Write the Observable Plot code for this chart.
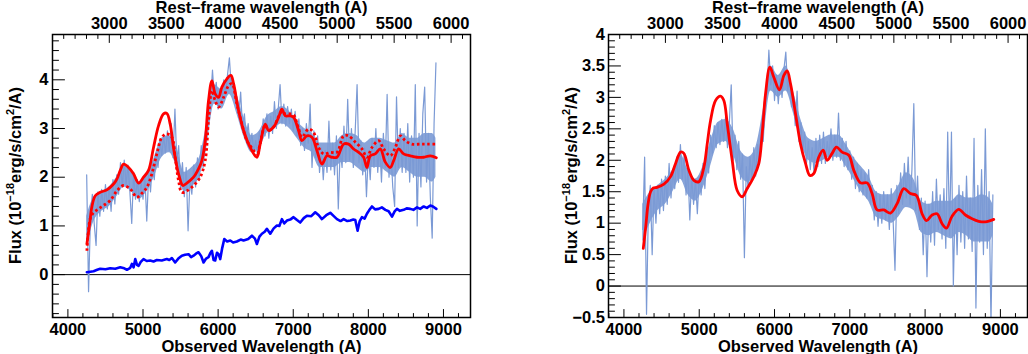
<!DOCTYPE html>
<html><head><meta charset="utf-8">
<script src="https://cdn.jsdelivr.net/npm/d3@7"></script>
<script src="https://cdn.jsdelivr.net/npm/@observablehq/plot@0.6"></script>
<style>
body{margin:0;background:#fff;}
#wrap{display:flex;width:1028px;height:354px;overflow:hidden;}
#wrap svg{flex:none;}
</style></head><body><div id="wrap"></div>
<script>
// ---------- data ----------
const obsWave = [
4250,4275,4300,4325,4350,4375,4400,4425,4450,4475,
4500,4525,4550,4575,4600,4625,4650,4675,4700,4725,
4750,4775,4800,4825,4850,4875,4900,4925,4950,4975,
5000,5025,5050,5075,5100,5125,5150,5175,5200,5225,
5250,5275,5300,5325,5350,5375,5400,5425,5450,5475,
5500,5525,5550,5575,5600,5625,5650,5675,5700,5725,
5750,5775,5800,5825,5850,5875,5900,5925,5950,5975,
6000,6025,6050,6075,6100,6125,6150,6175,6200,6225,
6250,6275,6300,6325,6350,6375,6400,6425,6450,6475,
6500,6525,6550,6575,6600,6625,6650,6675,6700,6725,
6750,6775,6800,6825,6850,6875,6900,6925,6950,6975,
7000,7025,7050,7075,7100,7125,7150,7175,7200,7225,
7250,7275,7300,7325,7350,7375,7400,7425,7450,7475,
7500,7525,7550,7575,7600,7625,7650,7675,7700,7725,
7750,7775,7800,7825,7850,7875,7900,7925,7950,7975,
8000,8025,8050,8075,8100,8125,8150,8175,8200,8225,
8250,8275,8300,8325,8350,8375,8400,8425,8450,8475,
8500,8525,8550,8575,8600,8625,8650,8675,8700,8725,
8750,8775,8800,8825,8850,8875,8900];

const obsFluxL = [
2.05,-0.35,1.15,1.65,1.05,0.6,1.7,1.2,1.75,1.3,
1.85,1.35,1.8,1.3,1.95,1.45,2.05,1.65,2.3,1.8,
2.35,1.85,2.25,1.7,1.05,2.1,1.55,1.95,1.5,1.9,
1.55,2.0,1.1,2.05,1.7,2.3,1.95,2.5,2.2,2.75,
2.45,2.85,2.5,2.95,2.55,3.1,2.4,3.4,2.3,2.65,
1.75,2.3,1.6,2.2,0.9,1.95,1.65,2.25,1.8,2.4,
1.95,2.65,2.2,2.6,2.9,3.35,3.6,4.2,3.6,3.95,
3.4,3.75,3.55,4.0,3.7,4.1,4.45,3.85,4.0,3.6,
3.65,3.25,3.75,3.0,3.3,2.8,3.1,2.65,2.9,2.5,
2.75,2.45,2.95,2.7,3.2,2.85,3.3,2.8,3.25,2.9,
3.55,3.0,3.4,3.9,3.1,3.5,3.05,3.45,3.1,3.4,
2.95,3.35,2.85,3.2,2.65,3.0,2.55,3.1,2.7,3.5,
2.2,2.95,2.4,2.85,2.1,2.6,1.95,2.55,2.1,3.15,
2.15,2.7,2.05,2.85,1.35,2.6,2.2,3.05,2.3,3.6,
2.35,3.0,2.2,2.95,3.9,2.3,2.75,2.05,2.6,1.6,
2.5,1.95,2.8,2.2,3.0,2.1,2.7,1.9,2.9,2.2,
3.7,2.0,2.55,1.8,1.4,3.65,2.2,3.0,2.1,2.9,
2.1,3.1,1.9,2.85,2.0,3.9,1.0,2.9,1.8,3.3,
3.85,1.9,2.9,1.6,0.75,3.1,4.35];

const obsFluxR = [
0.9,2.05,-0.45,1.25,1.6,0.5,1.55,1.0,1.6,1.15,
1.7,1.2,1.75,1.3,1.95,1.4,1.85,1.55,2.05,1.65,
2.25,1.7,2.1,1.45,1.85,1.05,1.75,1.3,1.7,1.15,
1.75,1.45,1.95,1.55,2.1,1.8,2.4,2.1,2.55,2.2,
2.6,2.25,2.65,2.3,2.7,2.2,2.6,3.2,2.0,2.4,
1.85,2.3,1.7,2.1,0.45,1.9,1.55,2.05,1.7,2.2,
1.75,2.25,1.95,2.4,2.3,2.9,3.1,3.75,3.2,3.5,
2.95,3.35,2.9,3.3,3.0,3.45,3.72,3.1,3.3,2.85,
3.0,2.55,3.1,2.3,2.6,2.15,2.45,1.95,2.3,1.85,
2.2,1.8,2.35,1.9,2.4,1.95,2.45,1.95,2.3,2.05,
2.5,2.0,2.4,2.05,2.75,2.0,2.35,1.9,2.3,1.85,
2.15,1.7,2.05,1.55,1.95,1.5,1.85,1.45,1.8,1.4,
1.85,1.3,1.6,1.05,1.5,0.95,1.45,1.0,1.5,1.05,
1.45,0.9,1.55,1.05,0.25,1.6,1.15,1.8,1.3,1.95,
1.4,2.05,1.3,1.85,2.9,1.2,1.75,0.9,1.4,0.5,
1.35,0.15,1.3,0.7,1.5,0.65,1.7,0.9,1.45,0.75,
1.55,0.6,2.45,0.8,2.45,0.0,1.4,0.5,1.6,0.7,
1.5,0.6,1.75,0.75,1.4,0.55,2.35,-0.35,1.6,0.7,
1.85,0.5,2.5,0.6,1.5,-0.6,1.45];

// dense core of the observed spectrum (lower / upper edge), read every 100 A
const bandWave = [4250,4350,4450,4550,4650,4750,4850,4950,5050,5150,5250,5350,5450,5550,5650,5750,5850,5950,6050,6150,6250,6350,6450,6550,6650,6750,6850,6950,7050,7150,7250,7350,7450,7550,7650,7750,7850,7950,8050,8150,8250,8350,8450,8550,8650,8750,8850,8900];
const bandLoL = [0.6,1.1,1.3,1.4,1.6,1.8,1.7,1.55,1.7,2.0,2.4,2.5,2.2,1.7,1.8,2.0,2.6,3.5,3.4,3.7,3.3,2.8,2.5,2.6,2.9,3.0,3.1,3.0,2.8,2.6,2.5,2.2,2.2,2.2,2.3,2.3,2.2,2.1,2.2,2.2,2.1,2.0,2.2,2.1,2.0,2.0,1.9,2.0];
const bandHiL = [1.2,1.6,1.7,1.8,2.0,2.25,2.1,1.9,2.05,2.4,2.8,2.85,2.6,2.1,2.2,2.4,3.1,3.9,3.8,4.1,3.7,3.2,2.85,2.95,3.25,3.35,3.45,3.35,3.15,3.0,2.9,2.7,2.7,2.7,2.85,2.9,2.85,2.7,2.8,2.8,2.75,2.7,2.9,2.8,2.8,2.9,2.9,2.8];
const bandLoR = [0.7,1.0,1.2,1.3,1.5,1.7,1.45,1.35,1.55,1.9,2.25,2.3,2.1,1.75,1.65,1.8,2.3,3.1,3.0,3.1,2.75,2.3,2.0,1.95,2.0,2.05,2.05,1.9,1.7,1.5,1.35,1.1,1.05,1.0,1.1,1.25,1.2,0.85,0.8,0.85,0.8,0.75,0.85,0.8,0.7,0.7,0.7,0.8];
const bandHiR = [1.3,1.5,1.6,1.7,1.85,2.1,1.85,1.7,1.9,2.3,2.6,2.65,2.5,2.15,2.05,2.2,2.8,3.5,3.35,3.5,3.1,2.65,2.35,2.3,2.35,2.4,2.4,2.25,2.05,1.9,1.75,1.5,1.45,1.45,1.6,1.8,1.7,1.35,1.3,1.35,1.35,1.35,1.45,1.4,1.4,1.45,1.4,1.3];

// left panel: solid red model
const fitWaveL = [4253,4290,4320,4364,4430,4519,4608,4652,4697,4741,4808,4874,4941,5007,5073,5140,5207,5273,5317,5362,5406,5473,5531,5584,5673,5739,5784,5828,5872,5917,5961,6006,6050,6117,6170,6206,6272,6339,6428,6516,6560,6627,6672,6738,6805,6849,6894,6960,7004,7071,7115,7182,7249,7315,7382,7449,7515,7582,7671,7737,7804,7871,7937,7981,8026,8092,8159,8226,8292,8337,8403,8470,8559,8648,8737,8825,8905];
const fitSolidL = [0.63,1.05,1.4,1.62,1.69,1.74,1.86,1.96,2.14,2.27,2.2,2.07,1.88,2.0,2.14,2.61,3.06,3.3,3.31,3.09,2.61,2.07,1.83,1.88,2.0,2.17,2.34,2.75,3.57,3.98,3.71,3.64,3.85,4.02,4.09,3.92,3.37,2.96,2.61,2.41,2.68,3.09,2.96,3.03,3.23,3.4,3.26,3.26,3.23,2.96,2.75,2.85,2.82,2.55,2.27,2.44,2.41,2.41,2.68,2.68,2.58,2.51,2.41,2.2,2.44,2.48,2.58,2.31,2.2,2.34,2.58,2.48,2.44,2.41,2.41,2.44,2.4];
// left panel: dotted red model
const fitDotWaveL = [4253,4297,4340,4408,4475,4563,4652,4741,4830,4918,4985,5051,5118,5184,5251,5317,5384,5428,5473,5517,5584,5673,5761,5828,5872,5917,5961,6006,6073,6139,6184,6250,6317,6383,6472,6516,6560,6627,6672,6738,6805,6849,6894,6960,7004,7071,7115,7204,7271,7337,7404,7493,7582,7671,7737,7826,7915,7981,8048,8137,8204,8292,8359,8426,8492,8581,8692,8781,8905];
const fitDotL = [0.49,1.15,1.27,1.35,1.42,1.52,1.72,1.83,1.76,1.59,1.67,1.79,2.07,2.48,2.82,2.89,2.82,2.41,1.93,1.69,1.72,1.83,2.0,2.34,3.16,3.78,3.57,3.44,3.64,3.88,3.92,3.5,3.09,2.75,2.55,2.43,2.7,3.07,2.96,3.03,3.25,3.35,3.3,3.3,3.28,3.0,2.82,2.99,2.92,2.61,2.48,2.51,2.51,2.85,2.85,2.72,2.58,2.41,2.61,2.75,2.58,2.44,2.61,2.85,2.75,2.68,2.68,2.68,2.68];
// left panel: blue component
const hostWaveL = [4253,4300,4342,4390,4430,4500,4564,4630,4697,4750,4786,4830,4852,4875,4897,4920,4941,4970,5007,5050,5096,5140,5184,5250,5317,5350,5384,5428,5470,5517,5560,5606,5640,5673,5705,5739,5775,5806,5840,5872,5895,5917,5940,5961,5985,6006,6028,6055,6082,6120,6162,6200,6250,6300,6339,6400,6450,6490,6516,6550,6583,6620,6649,6694,6740,6783,6815,6849,6880,6916,6960,7004,7050,7093,7140,7182,7240,7293,7340,7382,7440,7493,7540,7582,7630,7671,7720,7760,7800,7826,7857,7885,7915,7950,7981,8010,8048,8090,8137,8180,8226,8270,8315,8350,8381,8420,8470,8510,8559,8600,8648,8690,8737,8780,8825,8860,8905];
const hostL = [0.05,0.06,0.07,0.1,0.12,0.11,0.13,0.12,0.15,0.13,0.1,0.14,0.22,0.15,0.32,0.2,0.18,0.26,0.32,0.28,0.29,0.27,0.3,0.29,0.32,0.3,0.34,0.25,0.33,0.39,0.41,0.42,0.36,0.39,0.43,0.46,0.38,0.25,0.33,0.36,0.44,0.49,0.3,0.29,0.45,0.42,0.32,0.55,0.73,0.68,0.7,0.66,0.68,0.72,0.7,0.73,0.8,0.74,0.63,0.78,0.84,0.88,0.94,0.84,0.95,1.01,1.0,1.14,1.05,1.11,1.13,1.18,1.12,1.07,1.16,1.21,1.2,1.28,1.22,1.14,1.22,1.27,1.2,1.14,1.1,1.14,1.1,1.11,1.13,1.12,0.9,1.1,1.18,1.15,1.25,1.32,1.4,1.34,1.35,1.38,1.33,1.3,1.19,1.3,1.35,1.31,1.33,1.36,1.35,1.33,1.38,1.35,1.4,1.37,1.42,1.4,1.35];

// right panel: red model
const fitWaveR = [4257,4290,4320,4354,4390,4440,4531,4619,4686,4752,4796,4863,4929,4996,5062,5106,5150,5217,5283,5327,5372,5438,5504,5571,5637,5726,5792,5836,5881,5938,5991,6066,6124,6168,6212,6279,6345,6412,6469,6522,6588,6646,6699,6765,6823,6898,6987,7053,7142,7230,7296,7363,7451,7540,7628,7717,7805,7885,7960,8018,8093,8159,8226,8283,8358,8447,8535,8624,8712,8800,8912];
const fitR = [0.6,0.95,1.3,1.5,1.56,1.57,1.62,1.74,1.95,2.13,2.11,1.84,1.68,1.66,1.89,2.26,2.63,2.95,3.02,2.95,2.58,2.0,1.52,1.42,1.55,1.74,1.95,2.42,3.06,3.48,3.32,3.12,3.35,3.42,3.22,2.74,2.26,1.95,1.76,1.79,2.05,2.16,2.0,2.11,2.21,2.13,2.08,1.84,1.64,1.64,1.47,1.21,1.21,1.16,1.31,1.55,1.47,1.44,1.15,1.04,1.13,1.15,0.99,0.92,1.11,1.22,1.13,1.07,1.03,1.02,1.06];

// axes
const onePlusZ = 1.517;
const xMajorTicks = [4000,5000,6000,7000,8000,9000];
const xMinorTicks = [3800,4200,4400,4600,4800,5200,5400,5600,5800,6200,6400,6600,6800,7200,7400,7600,7800,8200,8400,8600,8800,9200];
const restMajorTicks = [3000,3500,4000,4500,5000,5500,6000];
const restMinorTicks = [2600,2700,2800,2900,3100,3200,3300,3400,3600,3700,3800,3900,4100,4200,4300,4400,4600,4700,4800,4900,5100,5200,5300,5400,5600,5700,5800,5900,6100];
const yMajorL = [0,1,2,3,4];
const yMinorL = [-0.8,-0.6,-0.4,-0.2,0.2,0.4,0.6,0.8,1.2,1.4,1.6,1.8,2.2,2.4,2.6,2.8,3.2,3.4,3.6,3.8,4.2,4.4,4.6,4.8];
const yMajorR = [-0.5,0,0.5,1,1.5,2,2.5,3,3.5,4];
const yMinorR = [-0.4,-0.3,-0.2,-0.1,0.1,0.2,0.3,0.4,0.6,0.7,0.8,0.9,1.1,1.2,1.3,1.4,1.6,1.7,1.8,1.9,2.1,2.2,2.3,2.4,2.6,2.7,2.8,2.9,3.1,3.2,3.3,3.4,3.6,3.7,3.8,3.9];

const xTitle = "Observed Wavelength (A)";
const topTitle = "Rest\u2013frame wavelength (A)";

// ---------- drawing ----------
const FONT = "'Liberation Sans', Arial, Helvetica, sans-serif";
const FS = 16.5;
const OBS = "#7b9ad5";
const tickShape = {draw(ctx, l) { ctx.moveTo(0, 0); ctx.lineTo(0, -l); }};
const tickMark = (vals, o) => Plot.vector(vals, {...o, shape: tickShape, anchor: "start", stroke: "black", strokeWidth: 1});
const fmt = d => (d < 0 ? "\u2212" + String(-d) : String(d));

function panel(cfg) {
  const txt = {fill: "black", fontSize: FS, fontWeight: "bold", fontFamily: FONT, lineAnchor: "middle"};
  const svg = Plot.plot({
    width: 514, height: 354,
    marginLeft: cfg.ml, marginRight: cfg.mr, marginTop: 34, marginBottom: 37,
    x: {domain: [3795, 9360], axis: null},
    y: {domain: cfg.yDomain, axis: null},
    style: {fontFamily: FONT, fontSize: FS + "px", fontWeight: "bold", background: "white", overflow: "visible"},
    marks: [
      Plot.ruleY([0], {stroke: "black", strokeWidth: 1}),
      Plot.areaY(bandWave, {x: d => d, y1: (d, i) => cfg.lo[i], y2: (d, i) => cfg.hi[i], fill: OBS, fillOpacity: 0.9, curve: "monotone-x"}),
      Plot.line(obsWave, {x: d => d, y: (d, i) => cfg.obs[i], stroke: OBS, strokeWidth: 1.2, clip: true}),
      ...cfg.lines,
      Plot.frame({stroke: "black", strokeWidth: 1.5}),
      tickMark(cfg.yMajor, {y: d => d, frameAnchor: "left", rotate: 90, length: 12}),
      tickMark(cfg.yMinor, {y: d => d, frameAnchor: "left", rotate: 90, length: 6}),
      tickMark(xMajorTicks, {x: d => d, frameAnchor: "bottom", rotate: 0, length: 8}),
      tickMark(xMinorTicks, {x: d => d, frameAnchor: "bottom", rotate: 0, length: 4}),
      tickMark(restMajorTicks, {x: d => d * onePlusZ, frameAnchor: "top", rotate: 180, length: 8}),
      tickMark(restMinorTicks, {x: d => d * onePlusZ, frameAnchor: "top", rotate: 180, length: 4}),
      Plot.text(cfg.yMajor, {...txt, y: d => d, frameAnchor: "left", dx: -cfg.ypad, textAnchor: "end", text: fmt}),
      Plot.text(xMajorTicks, {...txt, x: d => d, frameAnchor: "bottom", dy: 12, text: fmt}),
      Plot.text(restMajorTicks, {...txt, x: d => d * onePlusZ, frameAnchor: "top", dy: -10.5, text: fmt}),
      Plot.text([xTitle], {...txt, frameAnchor: "bottom", dy: 29, text: d => d}),
      Plot.text([topTitle], {...txt, frameAnchor: "top", dy: -26.3, text: d => d})
    ]
  });
  // y-axis title with superscripts
  const t = d3.select(svg).append("text")
    .attr("transform", `translate(${cfg.labelX},175.5) rotate(-90)`)
    .attr("text-anchor", "middle")
    .attr("font-family", FONT).attr("font-weight", "bold").attr("font-size", FS).attr("fill", "black");
  t.append("tspan").text("Flux (10");
  t.append("tspan").attr("dy", -7).attr("font-size", 11).text("\u221218");
  t.append("tspan").attr("dy", 7).text("erg/s/cm");
  t.append("tspan").attr("dy", -7).attr("font-size", 11).text("2");
  t.append("tspan").attr("dy", 7).text("/A)");
  return svg;
}

const left = panel({
  ml: 52, mr: 44, yDomain: [-0.88, 4.93], obs: obsFluxL, lo: bandLoL, hi: bandHiL, yMajor: yMajorL, yMinor: yMinorL, ypad: 4, labelX: 21,
  lines: [
    Plot.line(hostWaveL, {x: d => d, y: (d, i) => hostL[i], stroke: "#0000ff", strokeWidth: 2.6}),
    Plot.line(fitDotWaveL, {x: d => d, y: (d, i) => fitDotL[i], stroke: "#ff0000", strokeWidth: 2.8, strokeDasharray: "2.6 2.6", strokeLinecap: "butt", curve: "catmull-rom"}),
    Plot.line(fitWaveL, {x: d => d, y: (d, i) => fitSolidL[i], stroke: "#ff0000", strokeWidth: 2.8, curve: "catmull-rom"})
  ]
});
const right = panel({
  ml: 94, mr: 1, yDomain: [-0.5, 4], obs: obsFluxR, lo: bandLoR, hi: bandHiR, yMajor: yMajorR, yMinor: yMinorR, ypad: 3.5, labelX: 63,
  lines: [
    Plot.line(fitWaveR, {x: d => d, y: (d, i) => fitR[i], stroke: "#ff0000", strokeWidth: 2.8, curve: "catmull-rom"})
  ]
});
document.getElementById("wrap").append(left, right);
</script>
</body></html>
